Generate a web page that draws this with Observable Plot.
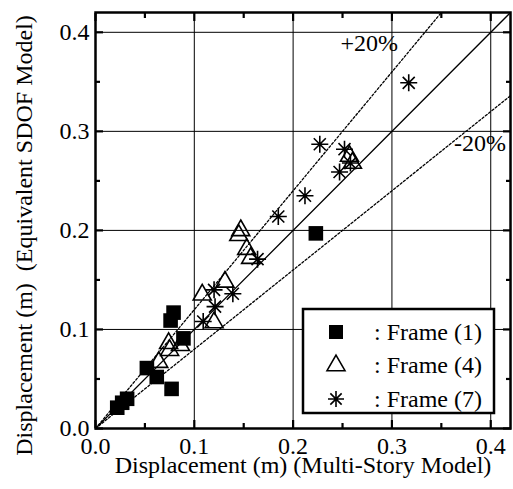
<!DOCTYPE html>
<html><head><meta charset="utf-8">
<script src="https://cdn.jsdelivr.net/npm/d3@7"></script>
<script src="https://cdn.jsdelivr.net/npm/@observablehq/plot@0.6"></script>
<style>
html,body{margin:0;padding:0;background:#fff;}
#chart{position:relative;width:513px;height:489px;}
</style></head><body><div id="chart"></div>
<script>
// Frame (1): filled squares
const frame1X = [0.022, 0.027, 0.032, 0.052, 0.062, 0.077, 0.076, 0.079, 0.089, 0.223];
const frame1Y = [0.021, 0.026, 0.030, 0.061, 0.052, 0.040, 0.109, 0.117, 0.091, 0.197];
// Frame (4): open triangles
const frame4X = [0.064, 0.074, 0.075, 0.086, 0.108, 0.120, 0.131, 0.147, 0.145, 0.153, 0.157, 0.257, 0.260];
const frame4Y = [0.067, 0.086, 0.079, 0.084, 0.135, 0.107, 0.148, 0.200, 0.195, 0.181, 0.172, 0.275, 0.268];
// Frame (7): asterisks
const frame7X = [0.109, 0.121, 0.120, 0.139, 0.164, 0.185, 0.212, 0.227, 0.252, 0.247, 0.258, 0.317];
const frame7Y = [0.108, 0.123, 0.140, 0.136, 0.171, 0.214, 0.235, 0.287, 0.282, 0.259, 0.268, 0.349];

const majorTicks = [0, 0.1, 0.2, 0.3, 0.4];
const minorTicks = [0.05, 0.15, 0.25, 0.35];
const legendLabels = [": Frame (1)", ": Frame (4)", ": Frame (7)"];
const xLabel = "Displacement (m) (Multi-Story Model)";
const yLabel = "Displacement (m)  (Equivalent SDOF Model)";
const ratios = [1, 1.2, 0.8];
const annotationText = ["+20%", "-20%"];
const annotationX = [0.277, 0.389];
const annotationY = [0.389, 0.288];
const domainMax = 0.42;

const FONT = '"Liberation Serif", "Times New Roman", serif';

const squareSym = {draw(ctx, size){const r=Math.sqrt(size/Math.PI); ctx.moveTo(-r,-r); ctx.lineTo(r,-r); ctx.lineTo(r,r); ctx.lineTo(-r,r); ctx.closePath();}};
const triSym = {draw(ctx, size){const r=Math.sqrt(size/Math.PI); const h=r*1.732; ctx.moveTo(0,-2*h/3); ctx.lineTo(r,h/3); ctx.lineTo(-r,h/3); ctx.closePath();}};
const astSym = {draw(ctx, size){const r=Math.sqrt(size/Math.PI); const d=r/Math.SQRT2;
  ctx.moveTo(0,-r);ctx.lineTo(0,r);ctx.moveTo(-r,0);ctx.lineTo(r,0);
  ctx.moveTo(-d,-d);ctx.lineTo(d,d);ctx.moveTo(-d,d);ctx.lineTo(d,-d);}};

const pts1 = frame1X.map((x,i)=>({x, y: frame1Y[i]}));
const pts4 = frame4X.map((x,i)=>({x, y: frame4Y[i]}));
const pts7 = frame7X.map((x,i)=>({x, y: frame7Y[i]}));
const lineXs = [0, domainMax];
const annots = annotationText.map((t,i)=>({t, x: annotationX[i], y: annotationY[i]}));
const fmt = d3.format(".1f");

const plot = Plot.plot({
  width: 513, height: 489,
  marginLeft: 95, marginTop: 12, marginRight: 3, marginBottom: 61,
  style: {fontFamily: FONT, fontSize: "24px", background: "white", color: "black"},
  x: {domain: [0, domainMax]},
  y: {domain: [0, domainMax]},
  marks: [
    Plot.gridX(majorTicks.slice(1), {stroke: "#000", strokeOpacity: 1, strokeWidth: 1}),
    Plot.gridY(majorTicks.slice(1), {stroke: "#000", strokeOpacity: 1, strokeWidth: 1}),
    ...ratios.map(k => Plot.line(lineXs, {x: d => d, y: d => d * k, clip: true, stroke: "#000",
        strokeWidth: 1.3, strokeDasharray: k === 1 ? null : "2.2,2"})),
    Plot.text(annots, {x: "x", y: "y", text: "t", fontSize: 24, fontFamily: FONT, fill: "#000"}),
    Plot.axisX(majorTicks, {anchor: "bottom", tickSize: 0, tickPadding: 8, tickFormat: fmt, fontSize: 24, fontFamily: FONT, label: null}),
    Plot.axisY(majorTicks, {anchor: "left", tickSize: 0, tickPadding: 6, tickFormat: fmt, fontSize: 24, fontFamily: FONT, label: null}),
    ...["bottom", "top"].map(a => Plot.axisX(majorTicks, {anchor: a, tickSize: -8, strokeWidth: 2.2, tickFormat: () => "", label: null})),
    ...["bottom", "top"].map(a => Plot.axisX(minorTicks, {anchor: a, tickSize: -5, strokeWidth: 2.2, tickFormat: () => "", label: null})),
    ...["left", "right"].map(a => Plot.axisY(majorTicks, {anchor: a, tickSize: -8, strokeWidth: 2.2, tickFormat: () => "", label: null})),
    ...["left", "right"].map(a => Plot.axisY(minorTicks, {anchor: a, tickSize: -5, strokeWidth: 2.2, tickFormat: () => "", label: null})),
    Plot.dot(pts1, {x: "x", y: "y", symbol: squareSym, r: 7.3, fill: "#000", stroke: "none"}),
    Plot.dot(pts4, {x: "x", y: "y", symbol: triSym, r: 9, fill: "none", stroke: "#000", strokeWidth: 1.6}),
    Plot.dot(pts7, {x: "x", y: "y", symbol: astSym, r: 8.5, fill: "none", stroke: "#000", strokeWidth: 1.6}),
    Plot.frame({stroke: "#000", strokeWidth: 2.5}),
    Plot.text([xLabel], {text: d => d, frameAnchor: "bottom", lineAnchor: "middle", textAnchor: "middle", dy: 37, fontSize: 24, fontFamily: FONT, fill: "#000"}),
    Plot.text([yLabel], {text: d => d, frameAnchor: "left", lineAnchor: "middle", textAnchor: "middle", rotate: -90, dx: -71, dy: 15, fontSize: 24, fontFamily: FONT, fill: "#000"})
  ]
});
document.getElementById("chart").appendChild(plot);

// Legend
const svg = d3.select(plot);
const lg = svg.append("g");
lg.append("rect").attr("x", 303).attr("y", 309).attr("width", 191).attr("height", 104)
  .attr("fill", "white").attr("stroke", "black").attr("stroke-width", 2.5);
const syms = [squareSym, triSym, astSym];
const symR = [7, 9, 8];
legendLabels.forEach((lab, i) => {
  const cy = 332 + i * 33.5;
  const p = d3.symbol(syms[i], Math.PI * symR[i] * symR[i])();
  lg.append("path").attr("d", p).attr("transform", `translate(336,${cy})`)
    .attr("fill", i === 0 ? "black" : "none").attr("stroke", i === 0 ? "none" : "black").attr("stroke-width", 1.6);
  lg.append("text").attr("x", 374).attr("y", cy).attr("dy", "0.32em").attr("text-anchor", "start")
    .attr("font-size", 24).attr("fill", "black").text(lab);
});
svg.selectAll("text").style("font-family", FONT).style("white-space", "pre");
</script>
</body></html>
